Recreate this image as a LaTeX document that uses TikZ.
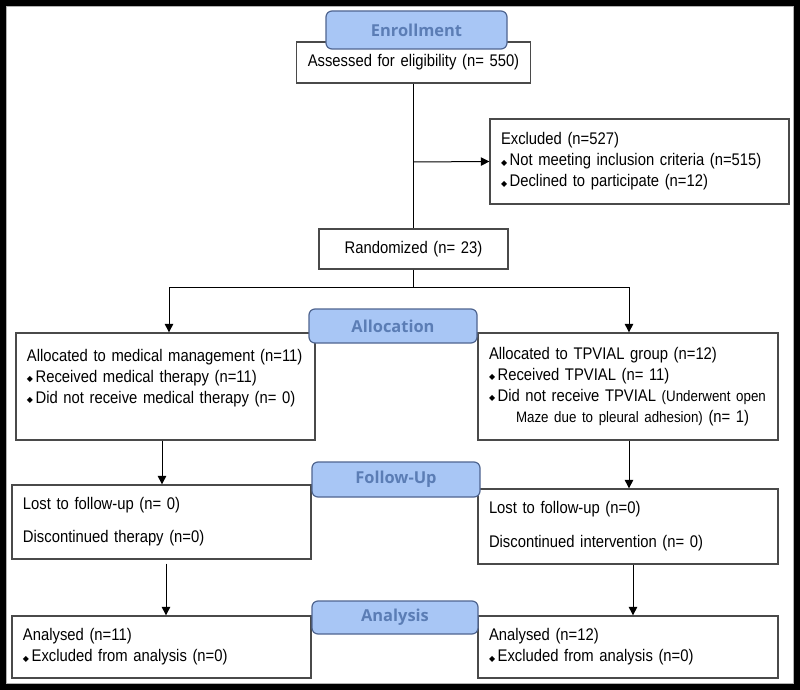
\documentclass[tikz,border=0pt]{standalone}
\usepackage{fontspec}
\setmainfont[FakeStretch=0.88]{Liberation Sans}
\newfontfamily\tabfont{Open Sans}
\newfontfamily\symfont{DejaVu Sans}
\usetikzlibrary{arrows.meta,calc}
\definecolor{tabfill}{HTML}{A8C6F5}
\definecolor{tabdraw}{HTML}{4F6590}
\definecolor{tabtext}{HTML}{5B7DB5}
\definecolor{boxdraw}{HTML}{4A4A4A}
\newcommand\dm{\raisebox{0.6bp}{\symfont\fontsize{8}{8}\selectfont ◆}\hspace{2.5bp}}
\newcommand\smalltxt[1]{{\fontsize{15.2}{21}\selectfont #1}}
\begin{document}
\begin{tikzpicture}[x=1bp,y=-1bp,
  box/.style={draw=boxdraw, line width=1.3bp, fill=white, inner xsep=11bp, inner ysep=0pt,
    font=\fontsize{16.9}{21}\selectfont, align=left},
  tabbox/.style={draw=tabdraw, line width=1.2bp, fill=tabfill, rounded corners=6bp,
    text=tabtext, font=\tabfont\bfseries\fontsize{16.5}{20}\selectfont, inner sep=0pt},
  line/.style={draw=black, line width=1bp},
  arr/.style={line, -{Triangle[length=8.5bp,width=8.5bp]}}]
\useasboundingbox (0,0) rectangle (800,690);
\fill[white] (0,0) rectangle (800,690);
% outer frame
\draw[line width=6bp] (3,3) rectangle (797,687);
\draw[gray!60, line width=0.8bp] (6.5,6.5) rectangle (793.5,683.5);

% boxes
\node[box, minimum width=234bp, minimum height=41bp, text width=212bp, align=center] (assess) at (413.5,62.5) {Assessed for eligibility (n= 550)};
\node[box, minimum width=299bp, minimum height=85bp, text width=277bp] (excl) at (639.5,161.5)
  {Excluded (n=527)\\ \dm Not meeting inclusion criteria (n=515)\\ \dm Declined to participate (n=12)};
\node[box, minimum width=189bp, minimum height=40bp, text width=167bp, align=center] (rand) at (413.5,249) {Randomized (n= 23)};

\node[box, minimum width=299bp, minimum height=107bp, text width=277bp] (lalloc) at (165.5,386.5)
  {Allocated to medical management (n=11)\\ \dm Received medical therapy (n=11)\\ \dm Did not receive medical therapy (n= 0)\\ \mbox{}};
\node[box, minimum width=300bp, minimum height=107bp, text width=278bp] (ralloc) at (628,386.5)
  {Allocated to TPVIAL group (n=12)\\ \dm Received TPVIAL (n= 11)\\ \dm Did not receive TPVIAL \smalltxt{(Underwent open}\\ \hspace*{27bp}\smalltxt{Maze due to pleural adhesion)} (n= 1)};

\node[box, minimum width=299bp, minimum height=74bp, text width=277bp] (lfol) at (161.5,522)
  {Lost to follow-up (n= 0)\\[12bp] Discontinued therapy (n=0)};
\node[box, minimum width=300bp, minimum height=75bp, text width=278bp] (rfol) at (628,526.5)
  {Lost to follow-up (n=0)\\[13bp] Discontinued intervention (n= 0)};

\node[box, minimum width=299bp, minimum height=62bp, text width=277bp] (lanal) at (161.5,647)
  {Analysed (n=11)\\ \dm Excluded from analysis (n=0)};
\node[box, minimum width=300bp, minimum height=62bp, text width=278bp] (ranal) at (628,647)
  {Analysed (n=12)\\ \dm Excluded from analysis (n=0)};

% connectors
\coordinate (exj) at (413.5,162);
\coordinate (split) at (413.5,287);
\draw[line] (assess.south) -- (rand.north);
\draw[arr] (exj) -- (excl.west);
\draw[line] (rand.south) -- (split);
\draw[arr] (split) -| ([xshift=3.5bp]lalloc.north);
\draw[arr] (split) -| ([xshift=1bp]ralloc.north);
\draw[arr] ([xshift=-3.5bp]lalloc.south) -- ([xshift=-3.5bp]lalloc.south |- lfol.north);
\draw[arr] ([xshift=1bp]ralloc.south) -- ([xshift=1bp]ralloc.south |- rfol.north);
\draw[arr] ([xshift=4.5bp,yshift=-4bp]lfol.south) -- ([xshift=4.5bp]lfol.south |- lanal.north);
\draw[arr] ([xshift=5bp]rfol.south) -- ([xshift=5bp]rfol.south |- ranal.north);

% stage tabs
\node[tabbox, minimum width=181bp, minimum height=38bp] (tEnroll) at (416.5,30) {Enrollment};
\node[tabbox, minimum width=168bp, minimum height=34bp] (tAlloc) at (393,326) {Allocation};
\node[tabbox, minimum width=168bp, minimum height=35bp] (tFollow) at (396,479.5) {Follow-Up};
\node[tabbox, minimum width=166bp, minimum height=33bp] (tAnal) at (395,617.5) {Analysis};
\end{tikzpicture}
\end{document}
